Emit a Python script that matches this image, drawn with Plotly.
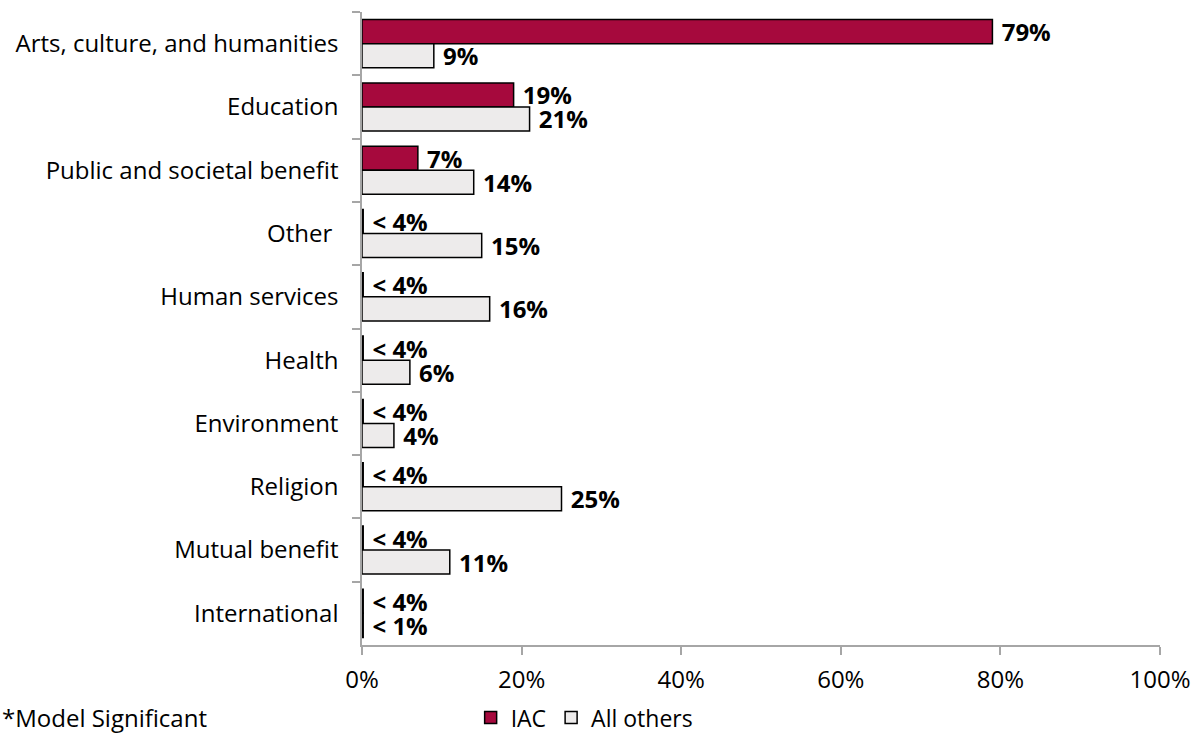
import plotly.graph_objects as go

# Share of respondents by primary cause area (percent)
categories = [
    "Arts, culture, and humanities",
    "Education",
    "Public and societal benefit",
    "Other ",
    "Human services",
    "Health",
    "Environment",
    "Religion",
    "Mutual benefit",
    "International",
]
# None marks a share below the reporting threshold
iac_pct = [79, 19, 7, None, None, None, None, None, None, None]
others_pct = [9, 21, 14, 15, 16, 6, 4, 25, 11, None]

iac_floor_label = "< 4%"
others_floor_label = "< 1%"
SLIVER = 0.15  # drawn width for suppressed shares

IAC_RED = "#A6093D"
OTHERS_GRAY = "#EDEBEB"
AXIS_GRAY = "#A6A6A6"
FONT = "Open Sans"
PAD = "\u00a0"  # gap between bar end and its label


def bar_values(values):
    return [v if v is not None else SLIVER for v in values]


def bar_labels(values, floor_label):
    return [PAD + (f"{v}%" if v is not None else floor_label) for v in values]


label_font = dict(family=FONT, size=24, color="#000000", weight="bold")

fig = go.Figure()
fig.add_trace(go.Bar(
    name="IAC",
    y=categories,
    x=bar_values(iac_pct),
    orientation="h",
    marker=dict(color=IAC_RED, line=dict(color="#000000", width=1.5)),
    text=bar_labels(iac_pct, iac_floor_label),
    textposition="outside",
    constraintext="none",
    cliponaxis=False,
    textfont=label_font,
))
fig.add_trace(go.Bar(
    name="All others",
    y=categories,
    x=bar_values(others_pct),
    orientation="h",
    marker=dict(color=OTHERS_GRAY, line=dict(color="#000000", width=1.5)),
    text=bar_labels(others_pct, others_floor_label),
    textposition="outside",
    constraintext="none",
    cliponaxis=False,
    textfont=label_font,
))

fig.update_layout(
    width=1195,
    height=736,
    margin=dict(l=362, r=35, t=12, b=91, autoexpand=False),
    paper_bgcolor="white",
    plot_bgcolor="white",
    barmode="group",
    bargap=0.24,
    bargroupgap=0,
    font=dict(family=FONT, size=24, color="#000000"),
    showlegend=True,
    legend=dict(
        orientation="h",
        xref="paper",
        x=0.279,
        xanchor="center",
        yref="container",
        y=0.025,
        yanchor="middle",
        font=dict(family=FONT, size=23),
        itemwidth=30,
        traceorder="normal",
        tracegroupgap=0,
    ),
    annotations=[
        dict(
            text="*Model Significant",
            xref="paper", yref="paper",
            x=-0.4536, y=-0.114,
            xanchor="left", yanchor="middle",
            showarrow=False,
            font=dict(family=FONT, size=24, color="#000000"),
        )
    ],
)

fig.update_xaxes(
    range=[0, 100],
    dtick=20,
    ticksuffix="%",
    showgrid=False,
    zeroline=False,
    showline=True,
    linecolor=AXIS_GRAY,
    linewidth=1.5,
    ticks="outside",
    ticklen=8,
    tickcolor=AXIS_GRAY,
    tickwidth=1.5,
    ticklabelstandoff=4,
    tickfont=dict(family=FONT, size=24),
    automargin=False,
)
fig.update_yaxes(
    autorange="reversed",
    showgrid=False,
    zeroline=False,
    showline=True,
    linecolor=AXIS_GRAY,
    linewidth=1.5,
    ticks="outside",
    tickson="boundaries",
    ticklen=8,
    tickcolor=AXIS_GRAY,
    tickwidth=1.5,
    ticklabelstandoff=17,
    tickfont=dict(family=FONT, size=24),
    automargin=False,
)

fig.write_html("out.html")
